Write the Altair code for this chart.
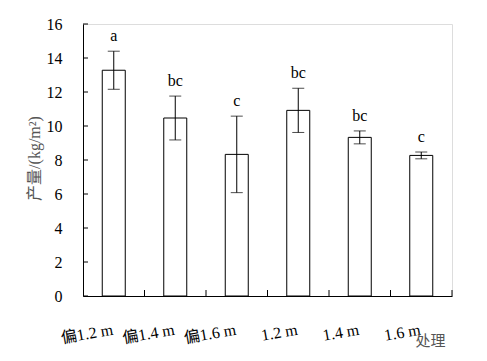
import altair as alt
import pandas as pd

categories = ["偏1.2 m", "偏1.4 m", "偏1.6 m", "1.2 m", "1.4 m", "1.6 m"]
means = [13.28, 10.47, 8.33, 10.92, 9.33, 8.27]
errors = [1.12, 1.29, 2.25, 1.30, 0.38, 0.20]
letters = ["a", "bc", "c", "bc", "bc", "c"]
y_ticks = [0, 2, 4, 6, 8, 10, 12, 14, 16]

df = pd.DataFrame({"cat": categories, "mean": means, "err": errors, "letter": letters})
df["lo"] = df["mean"] - df["err"]
df["hi"] = df["mean"] + df["err"]
tick_df = pd.DataFrame({"v": y_ticks})

W, H = 369, 272
FONT = "Times New Roman, Liberation Serif, Noto Sans CJK SC, serif"

xs = alt.Scale(paddingInner=0, paddingOuter=0)
ys = alt.Scale(domain=[0, 16], nice=False, zero=True)

x_axis = alt.Axis(
    title="处理", titleX=332, titleY=44, titleAlign="left", titleBaseline="middle",
    titleAngle=0, titleColor="#555555", titleFontWeight="normal", titleFontSize=15,
    titleFont=FONT,
    labelAngle=350, labelAlign="right", labelBaseline="alphabetic", labelPadding=38,
    labelFont=FONT, labelFontSize=16, labelColor="black", labelOverlap=False, labelBound=False,
    ticks=False, domainColor="black", domainWidth=1, grid=False,
)
y_axis = alt.Axis(
    title="产量/(kg/m²)", titleX=-49, titleY=134, titleAngle=270, titleAlign="center",
    titleBaseline="middle", titleColor="#555555", titleFontWeight="normal", titleFontSize=16,
    titleFont=FONT,
    values=y_ticks, labelPadding=21, labelFont=FONT, labelFontSize=16, labelColor="black",
    labelOverlap=False, labelBound=False,
    ticks=False, domainColor="black", domainWidth=1, grid=False,
)

X = alt.X("cat:N", sort=categories, scale=xs, axis=x_axis)
Y = alt.Y("mean:Q", scale=ys, axis=y_axis)

base = alt.Chart(df)
bars = base.mark_bar(size=23, fill="white", stroke="black", strokeWidth=1).encode(x=X, y=Y)
err = base.mark_rule(color="black", strokeWidth=1).encode(x=X, y=alt.Y("lo:Q", scale=ys, axis=y_axis), y2="hi:Q")
cap_lo = base.mark_tick(color="black", size=12, thickness=1).encode(x=X, y=alt.Y("lo:Q", scale=ys, axis=y_axis))
cap_hi = base.mark_tick(color="black", size=12, thickness=1).encode(x=X, y=alt.Y("hi:Q", scale=ys, axis=y_axis))
labels = base.mark_text(font=FONT, fontSize=16, color="black", baseline="alphabetic", dy=-10).encode(
    x=X, y=alt.Y("hi:Q", scale=ys, axis=y_axis), text="letter:N"
)
yticks = alt.Chart(tick_df).mark_rule(color="black", strokeWidth=1).encode(
    y=alt.Y("v:Q", scale=ys, axis=y_axis), x=alt.value(0), x2=alt.value(5)
)
xticks = base.mark_rule(color="black", strokeWidth=1).encode(
    x=alt.X("cat:N", sort=categories, scale=xs, axis=x_axis, bandPosition=1),
    y=alt.value(H), y2=alt.value(H - 6),
)

chart = alt.layer(bars, err, cap_lo, cap_hi, labels, yticks, xticks).properties(
    width=W, height=H,
    autosize=alt.AutoSizeParams(type="none"),
    padding={"left": 75, "top": 16, "right": 27, "bottom": 56},
).configure_view(stroke=None).configure(background="white")

chart.save("out.html", embed_options={"renderer": "svg", "actions": False})
